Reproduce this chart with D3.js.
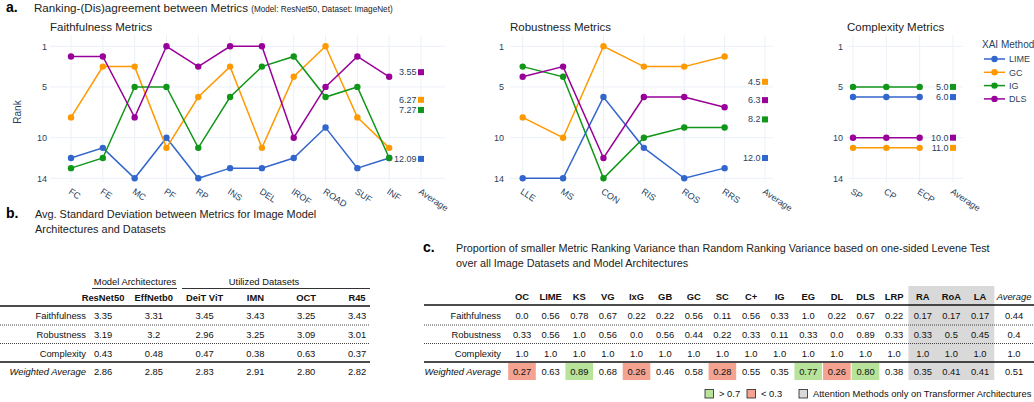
<html>
<head>
<style>
  body { margin: 0; background: #fff; }
  svg { font-family: "Liberation Sans", Arial, sans-serif; }
  .grid { stroke: #ebf0f8; stroke-width: 1; }
  .tick { font-size: 9px; fill: #2a3f5f; }
  .cell { font-size: 9.4px; fill: #111; }
</style>
</head>
<body>
<svg id="chart" width="1034" height="402"></svg>
<script src="https://cdn.jsdelivr.net/npm/d3@7"></script>
<script>
// ---- panel a data ----
const methods = ["LIME", "GC", "IG", "DLS"]
const colors = ["#3366cc", "#ff9900", "#109618", "#990099"]

const faithCats = ["FC", "FE", "MC", "PF", "RP", "INS", "DEL", "IROF", "ROAD", "SUF", "INF"]
const faithLIME = [12, 11, 14, 10, 14, 13, 13, 12, 9, 13, 12]
const faithGC = [8, 3, 3, 11, 6, 3, 11, 4, 1, 8, 11]
const faithIG = [13, 12, 5, 5, 11, 6, 3, 2, 6, 5, 12]
const faithDLS = [2, 2, 8, 1, 3, 1, 1, 10, 5, 2, 4]
const faithAvg = ["12.09", "6.27", "7.27", "3.55"]

const robCats = ["LLE", "MS", "CON", "RIS", "ROS", "RRS"]
const robLIME = [14, 14, 6, 11, 14, 13]
const robGC = [8, 10, 1, 3, 3, 2]
const robIG = [3, 4, 14, 10, 9, 9]
const robDLS = [4, 3, 12, 6, 6, 7]
const robAvg = ["12.0", "4.5", "8.2", "6.3"]

const compCats = ["SP", "CP", "ECP"]
const compLIME = [6, 6, 6]
const compGC = [11, 11, 11]
const compIG = [5, 5, 5]
const compDLS = [10, 10, 10]
const compAvg = ["6.0", "11.0", "5.0", "10.0"]

const rankTicks = [1, 5, 10, 14]

// ---- table b data ----
const bCols = ["ResNet50", "EffNetb0", "DeiT ViT", "IMN", "OCT", "R45"]
const bRows = ["Faithfulness", "Robustness", "Complexity", "Weighted Average"]
const bFaith = ["3.35", "3.31", "3.45", "3.43", "3.25", "3.43"]
const bRob = ["3.19", "3.2", "2.96", "3.25", "3.09", "3.01"]
const bComp = ["0.43", "0.48", "0.47", "0.38", "0.63", "0.37"]
const bWavg = ["2.86", "2.85", "2.83", "2.91", "2.80", "2.82"]

// ---- table c data ----
const cCols = ["OC", "LIME", "KS", "VG", "IxG", "GB", "GC", "SC", "C+", "IG", "EG", "DL", "DLS", "LRP", "RA", "RoA", "LA", "Average"]
const cRows = ["Faithfulness", "Robustness", "Complexity", "Weighted Average"]
const cFaith = ["0.0", "0.56", "0.78", "0.67", "0.22", "0.22", "0.56", "0.11", "0.56", "0.33", "1.0", "0.22", "0.67", "0.22", "0.17", "0.17", "0.17", "0.44"]
const cRob = ["0.33", "0.56", "1.0", "0.56", "0.0", "0.56", "0.44", "0.22", "0.33", "0.11", "0.33", "0.0", "0.89", "0.33", "0.33", "0.5", "0.45", "0.4"]
const cComp = ["1.0", "1.0", "1.0", "1.0", "1.0", "1.0", "1.0", "1.0", "1.0", "1.0", "1.0", "1.0", "1.0", "1.0", "1.0", "1.0", "1.0", "1.0"]
const cWavg = ["0.27", "0.63", "0.89", "0.68", "0.26", "0.46", "0.58", "0.28", "0.55", "0.35", "0.77", "0.26", "0.80", "0.38", "0.35", "0.41", "0.41", "0.51"]

const svg = d3.select("#chart")
const GREEN = "#b7e39a", RED = "#f5a391", GRAY = "#d9d9d9"

// ================= panel a =================
svg.append("text").attr("x", 6).attr("y", 12).attr("font-size", 14).attr("font-weight", "bold").text("a.")
let ttl = svg.append("text").attr("x", 34).attr("y", 12).attr("font-size", 11.6).attr("fill", "#222")
ttl.append("tspan").text("Ranking-(Dis)agreement between Metrics ")
ttl.append("tspan").attr("font-size", 8.2).text("(Model: ResNet50, Dataset: ImageNet)")

let yScale = d3.scaleLinear().domain([1, 14]).range([46.3, 178.3])
const plotTop = 35, plotBottom = 182

function panel(title, cats, series, avgs, x0, x1, gl, gr, labX) {
    let all = cats.concat(["Average"])
    let xScale = d3.scalePoint().domain(all).range([x0, x1])
    let g = svg.append("g")

    g.append("text").attr("x", gl).attr("y", 31).attr("font-size", 11.5).attr("fill", "#222").text(title)

    // grid
    g.selectAll(".hg").data(rankTicks).enter().append("line").attr("class", "grid")
        .attr("x1", gl).attr("x2", gr).attr("y1", d => yScale(d)).attr("y2", d => yScale(d))
    g.selectAll(".vg").data(all).enter().append("line").attr("class", "grid")
        .attr("x1", d => xScale(d)).attr("x2", d => xScale(d)).attr("y1", plotTop).attr("y2", plotBottom)

    // y tick labels
    g.selectAll(".yl").data(rankTicks).enter().append("text").attr("class", "tick")
        .attr("x", labX).attr("y", d => yScale(d) + 3.5).attr("text-anchor", "end").text(d => d)

    // x tick labels, rotated
    g.selectAll(".xl").data(all).enter().append("text").attr("class", "tick")
        .attr("transform", d => "translate(" + (xScale(d) - 3) + "," + 193 + ") rotate(34)")
        .attr("font-size", 8.5).text(d => d)

    let line = d3.line().x((d, i) => xScale(cats[i])).y(d => yScale(d))
    series.forEach((s, k) => {
        g.append("path").datum(s).attr("d", line).attr("fill", "none")
            .attr("stroke", colors[k]).attr("stroke-width", 1.5)
        g.selectAll(".pt" + k).data(s).enter().append("circle")
            .attr("cx", (d, i) => xScale(cats[i])).attr("cy", d => yScale(d)).attr("r", 3.2)
            .attr("fill", colors[k])
    })

    // average markers
    let ax = xScale("Average")
    avgs.forEach((a, k) => {
        g.append("rect").attr("x", ax - 3).attr("y", yScale(+a) - 3).attr("width", 6).attr("height", 6)
            .attr("fill", colors[k])
        g.append("text").attr("class", "tick").attr("x", ax - 4.5).attr("y", yScale(+a) + 3)
            .attr("text-anchor", "end").text(a)
    })
}

panel("Faithfulness Metrics", faithCats, [faithLIME, faithGC, faithIG, faithDLS], faithAvg, 71, 421, 50, 445, 47)
panel("Robustness Metrics", robCats, [robLIME, robGC, robIG, robDLS], robAvg, 522.7, 765, 510, 773, 504)
panel("Complexity Metrics", compCats, [compLIME, compGC, compIG, compDLS], compAvg, 853, 953, 847, 963, 843)

svg.append("text").attr("transform", "translate(21,112) rotate(-90)").attr("text-anchor", "middle")
    .attr("font-size", 10).attr("fill", "#2a3f5f").text("Rank")

// legend
let leg = svg.append("g")
leg.append("text").attr("x", 982).attr("y", 48).attr("font-size", 10).attr("fill", "#2a3f5f").text("XAI Method")
methods.forEach((m, k) => {
    let y = 59 + k * 13.3
    leg.append("line").attr("x1", 984).attr("x2", 1005).attr("y1", y).attr("y2", y)
        .attr("stroke", colors[k]).attr("stroke-width", 1.5)
    leg.append("circle").attr("cx", 994.5).attr("cy", y).attr("r", 3.2).attr("fill", colors[k])
    leg.append("text").attr("class", "tick").attr("x", 1009).attr("y", y + 3.2).text(m)
})

// ================= table b =================
svg.append("text").attr("x", 6).attr("y", 218).attr("font-size", 14).attr("font-weight", "bold").text("b.")
svg.append("text").attr("x", 35).attr("y", 218).attr("font-size", 10.9).attr("fill", "#222")
    .text("Avg. Standard Deviation between Metrics for Image Model")
svg.append("text").attr("x", 35).attr("y", 233).attr("font-size", 10.9).attr("fill", "#222")
    .text("Architectures and Datasets")

let bx = d3.scalePoint().domain(bCols).range([103, 357])
let rowY = d3.scalePoint().domain(bRows).range([316, 372])
let tb = svg.append("g")
tb.append("text").attr("class", "cell").attr("x", 135).attr("y", 285).attr("text-anchor", "middle").text("Model Architectures")
tb.append("text").attr("class", "cell").attr("x", 264).attr("y", 285).attr("text-anchor", "middle").text("Utilized Datasets")
tb.append("line").attr("x1", 92).attr("x2", 177).attr("y1", 288.5).attr("y2", 288.5).attr("stroke", "#333").attr("stroke-width", 1)
tb.append("line").attr("x1", 182).attr("x2", 370).attr("y1", 288.5).attr("y2", 288.5).attr("stroke", "#333").attr("stroke-width", 1)
tb.selectAll(".bh").data(bCols).enter().append("text").attr("class", "cell").attr("font-weight", "bold")
    .attr("x", d => bx(d)).attr("y", 300.5).attr("text-anchor", "middle").text(d => d)
tb.append("line").attr("x1", 0).attr("x2", 370).attr("y1", 306).attr("y2", 306).attr("stroke", "#111").attr("stroke-width", 1.5)
tb.append("line").attr("x1", 0).attr("x2", 370).attr("y1", 325).attr("y2", 325).attr("stroke", "#444").attr("stroke-dasharray", "1,1")
tb.append("line").attr("x1", 0).attr("x2", 370).attr("y1", 343.5).attr("y2", 343.5).attr("stroke", "#444").attr("stroke-dasharray", "1,1")
tb.append("line").attr("x1", 0).attr("x2", 370).attr("y1", 362).attr("y2", 362).attr("stroke", "#111").attr("stroke-width", 1.5)
let bData = [bFaith, bRob, bComp, bWavg]
bRows.forEach((r, i) => {
    let y = rowY(r) + 3.2
    tb.append("text").attr("class", "cell").attr("x", 86).attr("y", y).attr("text-anchor", "end")
        .attr("font-style", i == 3 ? "italic" : "normal").text(r)
    tb.selectAll(".br" + i).data(bData[i]).enter().append("text").attr("class", "cell")
        .attr("x", (d, j) => bx(bCols[j])).attr("y", y).attr("text-anchor", "middle").text(d => d)
})

// ================= table c =================
svg.append("text").attr("x", 423).attr("y", 252).attr("font-size", 14).attr("font-weight", "bold").text("c.")
svg.append("text").attr("x", 456).attr("y", 252).attr("font-size", 10.8).attr("fill", "#222")
    .text("Proportion of smaller Metric Ranking Variance than Random Ranking Variance based on one-sided Levene Test")
svg.append("text").attr("x", 456).attr("y", 267).attr("font-size", 10.8).attr("fill", "#222")
    .text("over all Image Datasets and Model Architectures")

let cx = d3.scalePoint().domain(cCols.slice(0, 17)).range([522, 980])
let cxAll = c => c == "Average" ? 1014 : cx(c)
let cw = cx.step()
let tc = svg.append("g")

// shaded attention columns
tc.append("rect").attr("x", cx("RA") - cw / 2).attr("y", 286).attr("width", cw * 3).attr("height", 94).attr("fill", GRAY)

// highlighted weighted average cells
cWavg.forEach((d, j) => {
    if (+d > 0.7 || +d < 0.3) {
        tc.append("rect").attr("x", cxAll(cCols[j]) - cw / 2 + 0.5)
            .attr("y", 363).attr("width", cw - 1).attr("height", 17)
            .attr("fill", +d > 0.7 ? GREEN : RED)
    }
})

tc.selectAll(".ch").data(cCols).enter().append("text").attr("class", "cell")
    .attr("font-weight", d => d == "Average" ? "normal" : "bold").attr("font-style", d => d == "Average" ? "italic" : "normal")
    .attr("x", d => cxAll(d)).attr("y", 299.5).attr("text-anchor", "middle").text(d => d)
tc.append("line").attr("x1", 424).attr("x2", 1034).attr("y1", 305).attr("y2", 305).attr("stroke", "#111").attr("stroke-width", 1.5)
tc.append("line").attr("x1", 424).attr("x2", 1034).attr("y1", 325).attr("y2", 325).attr("stroke", "#444").attr("stroke-dasharray", "1,1")
tc.append("line").attr("x1", 424).attr("x2", 1034).attr("y1", 343.5).attr("y2", 343.5).attr("stroke", "#444").attr("stroke-dasharray", "1,1")
tc.append("line").attr("x1", 424).attr("x2", 1034).attr("y1", 362).attr("y2", 362).attr("stroke", "#111").attr("stroke-width", 1.5)

let cData = [cFaith, cRob, cComp, cWavg]
let cRowY = d3.scalePoint().domain(cRows).range([316, 372])
cRows.forEach((r, i) => {
    let y = cRowY(r) + 3.2
    tc.append("text").attr("class", "cell").attr("x", 501).attr("y", y).attr("text-anchor", "end")
        .attr("font-style", i == 3 ? "italic" : "normal").text(r)
    tc.selectAll(".cr" + i).data(cData[i]).enter().append("text").attr("class", "cell")
        .attr("x", (d, j) => cxAll(cCols[j])).attr("y", y).attr("text-anchor", "middle").text(d => d)
})

// legend for table c
const cLegend = [{ c: GREEN, t: "> 0.7", x: 705 }, { c: RED, t: "< 0.3", x: 747 }, { c: GRAY, t: "Attention Methods only on Transformer Architectures", x: 799 }]
cLegend.forEach(l => {
    tc.append("rect").attr("x", l.x).attr("y", 389.5).attr("width", 8.5).attr("height", 8.5)
        .attr("fill", l.c).attr("stroke", "#222").attr("stroke-width", 0.8)
    tc.append("text").attr("class", "cell").attr("x", l.x + 14).attr("y", 397).text(l.t)
})
</script>
</body>
</html>
